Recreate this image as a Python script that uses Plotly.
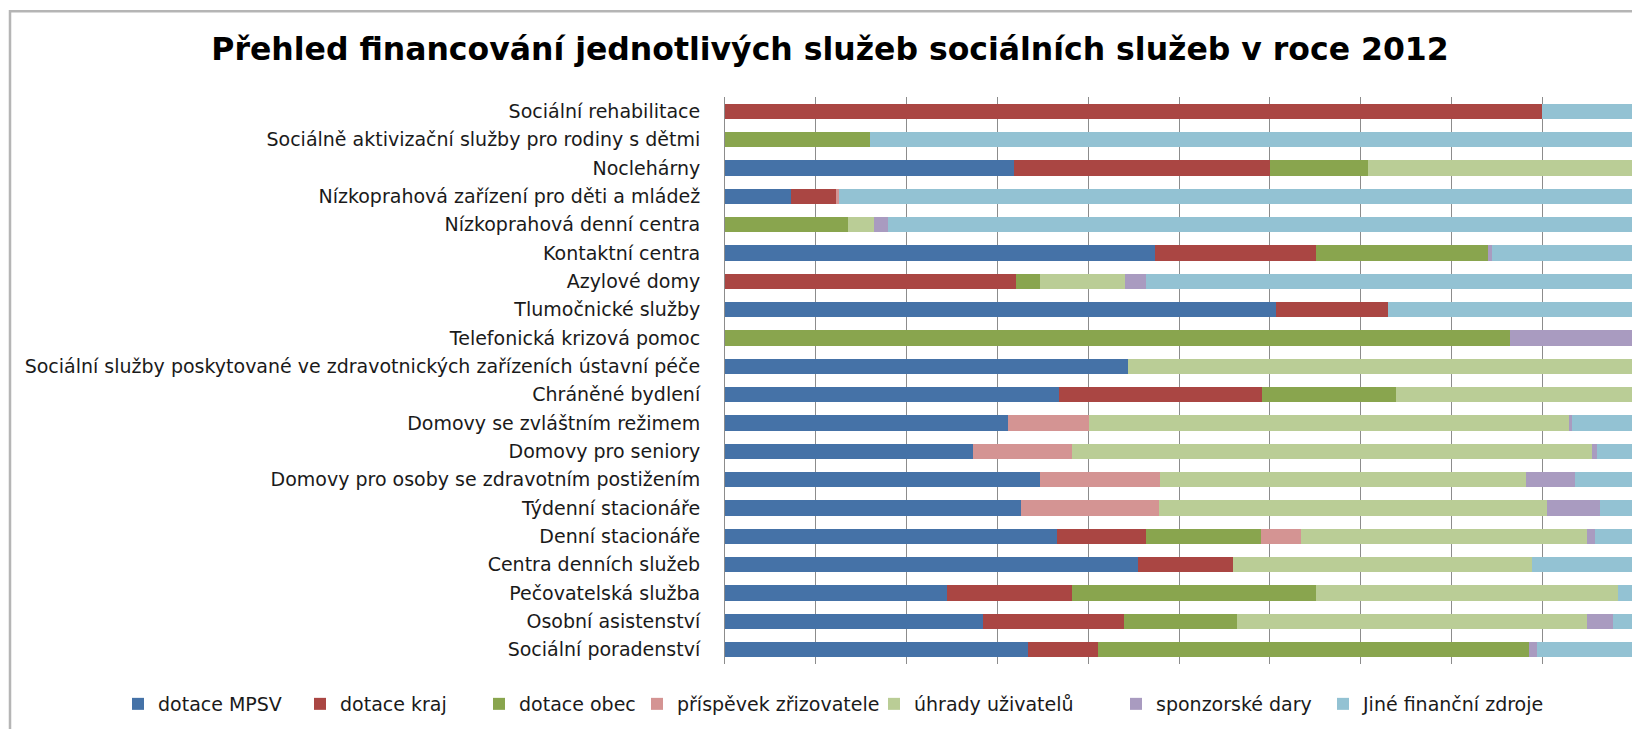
import plotly.graph_objects as go

# Categories listed from bottom to top (as drawn on the y axis)
categories = [
    "Sociální poradenství",
    "Osobní asistenství",
    "Pečovatelská služba",
    "Centra denních služeb",
    "Denní stacionáře",
    "Týdenní stacionáře",
    "Domovy pro osoby se zdravotním postižením",
    "Domovy pro seniory",
    "Domovy se zvláštním režimem",
    "Chráněné bydlení",
    "Sociální služby poskytované ve zdravotnických zařízeních ústavní péče",
    "Telefonická krizová pomoc",
    "Tlumočnické služby",
    "Azylové domy",
    "Kontaktní centra",
    "Nízkoprahová denní centra",
    "Nízkoprahová zařízení pro děti a mládež",
    "Noclehárny",
    "Sociálně aktivizační služby pro rodiny s dětmi",
    "Sociální rehabilitace",
]

dotace_mpsv = [33.4, 28.4, 24.4, 45.5, 36.6, 32.6, 34.7, 27.3, 31.2, 36.8, 44.4, 0, 60.7, 0, 47.4, 0, 7.3, 31.8, 0, 0]
dotace_kraj = [7.7, 15.5, 13.8, 10.5, 9.8, 0, 0, 0, 0, 22.3, 0, 0, 12.3, 32.1, 17.7, 0, 5.0, 28.2, 0, 90.0]
dotace_obec = [47.5, 12.5, 26.9, 0, 12.6, 0, 0, 0, 0, 14.8, 0, 86.5, 0, 2.6, 18.9, 13.6, 0, 10.8, 16.0, 0]
prispevek_zrizovatele = [0, 0, 0, 0, 4.4, 15.2, 13.2, 10.9, 8.9, 0, 0, 0, 0, 0, 0, 0, 0.2, 0, 0, 0]
uhrady_uzivatelu = [0, 38.5, 33.3, 32.9, 31.5, 42.7, 40.3, 57.3, 52.8, 26.1, 55.6, 0, 0, 9.3, 0, 2.8, 0, 29.2, 0, 0]
sponzorske_dary = [0.8, 2.9, 0, 0, 0.9, 5.9, 5.4, 0.5, 0.4, 0, 0, 13.5, 0, 2.4, 0.5, 1.6, 0, 0, 0, 0]
jine_zdroje = [10.6, 2.2, 1.6, 11.1, 4.2, 3.6, 6.4, 4.0, 6.7, 0, 0, 0, 27.0, 53.6, 15.5, 82.0, 87.5, 0, 84.0, 10.0]

series_names = ["dotace MPSV", "dotace kraj", "dotace obec", "příspěvek zřizovatele",
                "úhrady uživatelů", "sponzorské dary", "Jiné finanční zdroje"]
series_values = [dotace_mpsv, dotace_kraj, dotace_obec, prispevek_zrizovatele,
                 uhrady_uzivatelu, sponzorske_dary, jine_zdroje]
colors = ["#4572A7", "#AA4643", "#89A54E", "#D49493", "#BACD96", "#A99BC0", "#93C2D3"]

FONT = "DejaVu Sans"

# page body has an 8px default margin; work in page pixels and convert
OFF = 8
W, H = 1640 - OFF, 729 - OFF
plot_left, plot_right, plot_top, plot_bottom = 725, 1633, 97, 665
L = plot_left - OFF
R = W - (plot_right - OFF)
T = plot_top - OFF
B = H - (plot_bottom - OFF)
pw, ph = W - L - R, H - T - B

def px_x(p):
    return (p - OFF - L) / pw

def px_y(p):
    return 1 - (p - OFF - T) / ph

# legend entry left edges (page px), one legend box per series
legend_left = [130, 312, 491, 649, 886, 1128, 1335]
legend_keys = ["legend"] + [f"legend{i}" for i in range(2, 8)]

fig = go.Figure()
for name, vals, col, lk in zip(series_names, series_values, colors, legend_keys):
    fig.add_trace(go.Bar(
        y=categories, x=vals, name=name, orientation="h",
        marker=dict(color=col, line=dict(width=0)),
        legend=lk,
    ))

legend_cfg = {}
for lk, lx in zip(legend_keys, legend_left):
    legend_cfg[lk] = dict(
        orientation="h", x=px_x(lx - 12), xanchor="left",
        y=px_y(704), yanchor="middle",
        font=dict(family=FONT, size=19, color="#1a1a1a"),
        itemwidth=30, bgcolor="rgba(0,0,0,0)", borderwidth=0,
    )

fig.update_layout(
    width=W, height=H,
    barmode="stack", barnorm="percent", bargap=0.46,
    margin=dict(l=L, r=R, t=T, b=B, pad=0),
    paper_bgcolor="white", plot_bgcolor="white",
    font=dict(family=FONT, color="#1a1a1a"),
    title=dict(
        text="<b>Přehled financování jednotlivých služeb sociálních služeb v roce 2012</b>",
        font=dict(family=FONT, size=31.5, color="black"),
        x=(830 - OFF) / W, xref="container", xanchor="center",
        y=1 - (49 - OFF) / H, yref="container", yanchor="middle",
    ),
    xaxis=dict(
        range=[0, 100], dtick=10, showgrid=True, gridcolor="#8c8c8c", gridwidth=1,
        showticklabels=False, zeroline=False, showline=False, ticks="",
    ),
    yaxis=dict(
        showline=True, linecolor="#8c8c8c", linewidth=1,
        tickfont=dict(family=FONT, size=19, color="#1a1a1a"),
        ticks="", ticklabelstandoff=20, showgrid=False,
    ),
    showlegend=True,
    shapes=[
        dict(type="rect", xref="paper", yref="paper",
             x0=px_x(10), x1=px_x(1700), y0=px_y(11), y1=px_y(800),
             line=dict(color="#b5b5b5", width=2.5), layer="below"),
    ],
    **legend_cfg,
)

fig.write_html("out.html")
